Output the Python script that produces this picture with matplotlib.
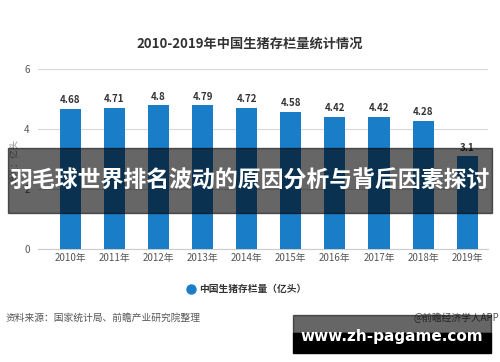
import matplotlib
matplotlib.use("Agg")
import matplotlib.pyplot as plt
from matplotlib.patches import Rectangle
from matplotlib.lines import Line2D

plt.rcParams['font.family'] = ['Noto Sans CJK SC', 'DejaVu Sans']

years = ["2010年", "2011年", "2012年", "2013年", "2014年", "2015年", "2016年", "2017年", "2018年", "2019年"]
values = [4.68, 4.71, 4.8, 4.79, 4.72, 4.58, 4.42, 4.42, 4.28, 3.1]
yticks = [0, 2, 4, 6]

bar_color = "#1a7dc8"

fig = plt.figure(figsize=(5, 3.62), dpi=100)
ax = fig.add_axes([0.076, 0.312, 0.9, 0.497])

x = range(len(years))
ax.bar(x, values, width=0.48, color=bar_color, zorder=3)
for i, v in zip(x, values):
    ax.text(i, v + 0.12, f"{v:g}", ha="center", va="bottom", fontsize=7,
            fontweight="bold", color="#333333")

ax.set_xlim(-0.73, 9.47)
ax.set_ylim(0, 6)
ax.set_yticks(yticks)
ax.set_yticklabels([str(t) for t in yticks], fontsize=7, color="#555555")
ax.set_xticks(list(x))
ax.set_xticklabels(years, fontsize=7, color="#555555")
ax.tick_params(length=0, pad=3)
ax.tick_params(axis="y", pad=6)
ax.grid(axis="y", color="#d8d8d8", linewidth=0.8, zorder=0)
for s in ["top", "right", "left"]:
    ax.spines[s].set_visible(False)
ax.spines["bottom"].set_color("#cccccc")

fig.text(0.5, 0.878, "2010-2019年中国生猪存栏量统计情况", ha="center", va="center",
         fontsize=9.5, fontweight="bold", color="#333333")
fig.text(0.03, 0.555, "单位：亿头", rotation=90, ha="center", va="center",
         fontsize=6.5, color="#888888")

# legend
fig.add_artist(Line2D([0.381], [0.202], marker="o", markersize=6.5,
                      color=bar_color, linestyle="none"))
fig.text(0.398, 0.202, "中国生猪存栏量（亿头）", ha="left", va="center",
         fontsize=7, fontweight="bold", color="#333333")

fig.text(0.012, 0.123, "资料来源：国家统计局、前瞻产业研究院整理", ha="left", va="center",
         fontsize=7, color="#555555")
fig.text(0.998, 0.123, "@前瞻经济学人APP", ha="right", va="center",
         fontsize=7, color="#555555")

# overlay banner
fig.add_artist(Rectangle((0.016, 1 - 213 / 362), 0.968, 65 / 362,
                         transform=fig.transFigure, color="black", alpha=0.6, zorder=10))
fig.text(0.5, 1 - 181 / 362, "羽毛球世界排名波动的原因分析与背后因素探讨", ha="center", va="center",
         fontsize=16.5, fontweight="bold", color="white", zorder=11)

# site box
fig.add_artist(Rectangle((293 / 500, 1 - 333 / 362), 198 / 500, 18 / 362,
                         transform=fig.transFigure, color="black", alpha=0.6, zorder=10))
fig.add_artist(Rectangle((293 / 500, 1 - 353 / 362), 198 / 500, 20 / 362,
                         transform=fig.transFigure, color="black", zorder=10))
fig.text(0.784, 1 - 337 / 362, "www.zh-pagame.com", ha="center", va="center",
         fontsize=11, fontweight="bold", color="white", family="DejaVu Sans", zorder=11)

fig.savefig("out.png", dpi=100)
